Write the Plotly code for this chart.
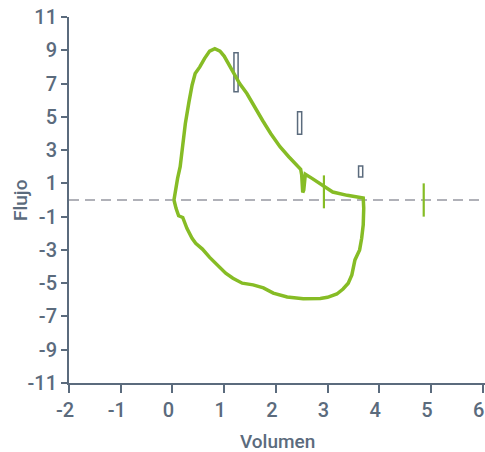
import plotly.graph_objects as go

# Flow-volume loop
loop_vol = [0.03, 0.06, 0.10, 0.15, 0.20, 0.25, 0.32, 0.38, 0.44, 0.53, 0.62, 0.72, 0.82, 0.92,
            1.00, 1.15, 1.30, 1.44, 1.60, 1.75, 1.90, 2.08, 2.25, 2.40, 2.48, 2.50, 2.52, 2.54,
            2.57, 2.70, 2.91, 3.10, 3.38, 3.69,
            3.70, 3.69, 3.66, 3.62, 3.53, 3.47, 3.40, 3.30, 3.18, 3.00, 2.86, 2.53, 2.22, 1.95,
            1.76, 1.56, 1.35, 1.17, 1.03, 0.88, 0.72, 0.58, 0.45, 0.38, 0.28, 0.20, 0.12, 0.07, 0.03]
loop_flow = [0.0, 0.6, 1.3, 2.0, 3.3, 4.6, 5.9, 6.9, 7.6, 8.0, 8.5, 8.95, 9.1, 8.95,
             8.65, 7.8, 7.0, 6.4, 5.5, 4.75, 4.0, 3.2, 2.6, 2.1, 1.85, 1.5, 0.45, 0.6,
             1.55, 1.3, 0.88, 0.48, 0.28, 0.12,
             -0.5, -1.5, -2.3, -3.0, -3.6, -4.5, -5.0, -5.35, -5.65, -5.85, -5.92, -5.93, -5.83, -5.6,
             -5.28, -5.1, -5.0, -4.7, -4.4, -3.95, -3.45, -2.95, -2.6, -2.3, -1.7, -1.05, -0.95, -0.5, 0.0]

# Vertical green markers
mark_vol = [2.93, 4.86]
mark_low = [-0.5, -1.0]
mark_high = [1.48, 1.0]

# Small open rectangles (ranges)
rect_vol = [1.23, 2.46, 3.64]
rect_low = [6.5, 3.95, 1.38]
rect_high = [8.85, 5.3, 2.05]

x_ticks = [-2, -1, 0, 1, 2, 3, 4, 5, 6]
y_ticks = [-11, -9, -7, -5, -3, -1, 1, 3, 5, 7, 9, 11]

GREEN = "#86bc25"
SLATE = "#5b6b7d"
FONT = "Roboto"

fig = go.Figure()

# zero reference dashed line
fig.add_trace(go.Scatter(x=[x_ticks[0], 6.05], y=[0, 0], mode="lines",
                         line=dict(color="#b0b1b8", width=2, dash="10px,6px"),
                         hoverinfo="skip", showlegend=False))

fig.add_trace(go.Scatter(x=loop_vol, y=loop_flow, mode="lines",
                         line=dict(color=GREEN, width=3.5), showlegend=False))

mx, my = [], []
for v, lo, hi in zip(mark_vol, mark_low, mark_high):
    mx += [v, v, None]
    my += [lo, hi, None]
fig.add_trace(go.Scatter(x=mx, y=my, mode="lines", line=dict(color=GREEN, width=2.2),
                         showlegend=False))

fig.add_trace(go.Bar(x=rect_vol, base=rect_low,
                     y=[h - l for h, l in zip(rect_high, rect_low)],
                     width=0.08, marker=dict(color="white", line=dict(color=SLATE, width=1.5)),
                     showlegend=False))

tickfont = dict(family=FONT, size=20, color=SLATE, weight=500)
titlefont = dict(family=FONT, size=19, color=SLATE, weight=500)

fig.update_layout(
    width=485, height=452,
    margin=dict(l=69, r=0, t=17, b=69),
    paper_bgcolor="white", plot_bgcolor="white",
    font=dict(family=FONT, color=SLATE, size=18),
    xaxis=dict(range=[-2, 6.045], tickvals=x_ticks, ticktext=[str(t) for t in x_ticks],
               automargin=False, ticklabeloverflow="allow", ticklabelshift=-4,
               showgrid=False, zeroline=False, showline=True, linecolor=SLATE, linewidth=2,
               ticks="outside", ticklen=8, tickwidth=2, tickcolor=SLATE,
               tickfont=tickfont),
    yaxis=dict(range=[-11, 11], tickvals=y_ticks, ticktext=[str(t) for t in y_ticks],
               automargin=False, ticklabeloverflow="allow",
               showgrid=False, zeroline=False, showline=True, linecolor=SLATE, linewidth=2,
               ticks="outside", ticklen=6, tickwidth=2, tickcolor=SLATE,
               tickfont=tickfont),
    annotations=[
        dict(text="Volumen", xref="paper", yref="paper", x=0.5, y=0, yshift=-58,
             xanchor="center", yanchor="middle", showarrow=False, font=titlefont),
        dict(text="Flujo", xref="paper", yref="paper", x=0, y=0.5, xshift=-49,
             xanchor="center", yanchor="middle", textangle=-90, showarrow=False, font=titlefont),
    ],
)

fig.write_html("out.html", config={"displayModeBar": False},
               post_script="document.body.style.margin='0';document.body.style.overflow='hidden';")
